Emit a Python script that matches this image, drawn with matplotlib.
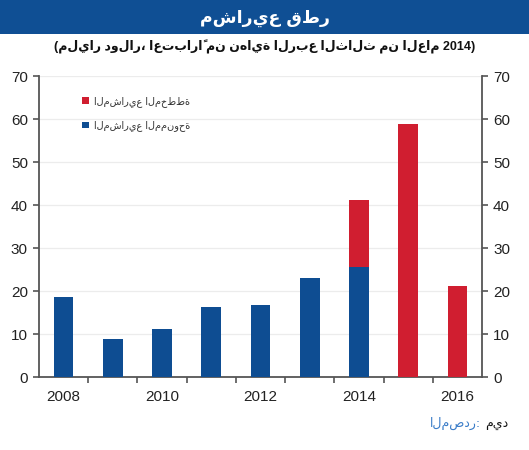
import matplotlib
matplotlib.use("Agg")
import matplotlib.pyplot as plt
from matplotlib.patches import Patch, Rectangle

# ---------------- data ----------------
years = [2008, 2009, 2010, 2011, 2012, 2013, 2014, 2015, 2016]
awarded = [18.7, 8.8, 11.2, 16.4, 16.7, 23.2, 25.6, 0.0, 0.0]
planned = [0.0, 0.0, 0.0, 0.0, 0.0, 0.0, 15.6, 58.8, 21.3]
year_labels = ["2008", "", "2010", "", "2012", "", "2014", "", "2016"]
yticks = [0, 10, 20, 30, 40, 50, 60, 70]

title = "مشاريع قطر"
subtitle = "(مليار دولار، اعتباراً من نهاية الربع الثالث من العام 2014)"
label_planned = "المشاريع المخططة"
label_awarded = "المشاريع الممنوحة"
source_label = "المصدر:"
source_value = "ميد"

# ---------------- figure ----------------
BLUE = '#0e4d92'
BAR_BG = '#0f4f94'
RED = '#d01e30'
FONT = ['Liberation Sans', 'DejaVu Sans']
AR = ['DejaVu Sans']

fig = plt.figure(figsize=(5.29, 4.50), dpi=100)
W, H = 529.0, 450.0

# title bar
fig.patches.append(Rectangle((0, 1 - 34 / H), 1, 34 / H,
                             transform=fig.transFigure, facecolor=BAR_BG,
                             edgecolor='none', zorder=0))
fig.text(265 / W, 1 - 18 / H, title, color='white', fontsize=12.5,
         fontweight='bold', family=AR, ha='center', va='center')
fig.text(265 / W, 1 - 47 / H, subtitle, color='#111111', fontsize=9,
         fontweight='bold', family=FONT, ha='center', va='center')

ax = fig.add_axes([39 / W, 1 - 377.3 / H, 443 / W, 301 / H])
x = list(range(len(years)))
ax.bar(x, awarded, width=0.4, color=BLUE, zorder=3)
ax.bar(x, planned, width=0.4, bottom=awarded, color=RED, zorder=3)

ax.set_xlim(-0.5, len(years) - 0.5)
ax.set_ylim(0, 70)
ax.set_yticks(yticks)
ax.set_yticklabels([str(v) for v in yticks], family=FONT, fontsize=11, color='#222222')
ax.set_xticks(x)
ax.set_xticklabels(year_labels, family=FONT, fontsize=11, color='#222222')
ax.set_xticks([i + 0.5 for i in x[:-1]], minor=True)
ax.tick_params(axis='x', which='major', length=0, pad=9)
ax.tick_params(axis='x', which='minor', length=4, width=1.2, color='#555555', direction='out')
ax.tick_params(axis='y', which='major', left=True, right=True, labelleft=True,
               labelright=True, length=4, width=1.2, color='#555555', pad=4)
for lab in ax.get_yticklabels(which='both'):
    lab.set_family(FONT)
ax.yaxis.set_tick_params(labelsize=11, labelcolor='#222222')

ax.grid(axis='y', color='#ececec', linewidth=0.9, zorder=0)
ax.set_axisbelow(True)
for s in ['left', 'right', 'bottom']:
    ax.spines[s].set_color('#555555')
    ax.spines[s].set_linewidth(1.3)
ax.spines['top'].set_visible(False)

handles = [Patch(facecolor=RED, edgecolor='none', label=label_planned),
           Patch(facecolor=BLUE, edgecolor='none', label=label_awarded)]
leg = ax.legend(handles=handles, loc='upper left', bbox_to_anchor=(0.097, 0.935),
                frameon=False, borderpad=0, borderaxespad=0, handlelength=0.7,
                handleheight=0.7, handletextpad=0.5, labelspacing=1.4,
                prop={'family': AR, 'size': 7})
for t in leg.get_texts():
    t.set_color('#333333')

# source line
renderer = fig.canvas.get_renderer()
t_val = fig.text(508 / W, 1 - 423 / H, source_value, color='#111111',
                 fontsize=9, family=AR, ha='right', va='center')
bb = t_val.get_window_extent(renderer)
fig.text((bb.x0 - 4) / W, 1 - 423 / H, source_label, color='#3a7cc8',
         fontsize=9, family=AR, ha='right', va='center')

fig.savefig('out.png', dpi=100)
